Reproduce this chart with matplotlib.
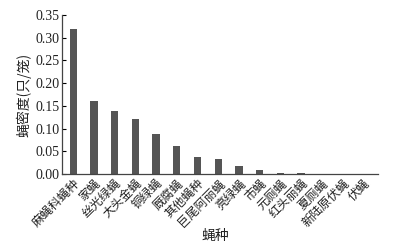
import matplotlib
matplotlib.use('Agg')
import matplotlib.pyplot as plt

# fly species and density (flies per cage)
SPECIES = ['麻蝇科蝇种', '家蝇', '丝光绿蝇', '大头金蝇', '铜绿蝇', '厩腐蝇', '其他蝇种',
           '巨尾阿丽蝇', '亮绿蝇', '市蝇', '元厕蝇', '红头丽蝇', '夏厕蝇', '新陆原伏蝇', '伏蝇']
DENSITY = [0.319, 0.161, 0.138, 0.121, 0.087, 0.062, 0.037,
           0.032, 0.018, 0.009, 0.002, 0.001, 0.0, 0.0, 0.0]
YTICKS = [0.00, 0.05, 0.10, 0.15, 0.20, 0.25, 0.30, 0.35]

CJK = ['Noto Sans CJK SC', 'DejaVu Sans']
SERIF = 'Liberation Serif'

fig = plt.figure(figsize=(3.96, 2.47), dpi=100)
ax = fig.add_axes([0.157, 0.296, 0.798, 0.643])

x = list(range(len(SPECIES)))
ax.bar(x, DENSITY, width=0.35, color='#555555')

ax.set_xlim(-0.53, 14.72)
ax.set_ylim(0, 0.35)
ax.set_yticks(YTICKS)
ax.set_yticklabels([f'{v:.2f}' for v in YTICKS], family=SERIF, fontsize=10, color='#222222')
ax.set_xticks(x)
ax.set_xticklabels(SPECIES, rotation=45, ha='right', rotation_mode='anchor',
                   family=CJK, fontsize=8.8, color='#222222')
ax.tick_params(axis='y', direction='in', length=3, width=0.8, pad=2)
ax.tick_params(axis='x', length=0, pad=2)

for side in ['top', 'right']:
    ax.spines[side].set_visible(False)
for side in ['left', 'bottom']:
    ax.spines[side].set_color('#444444')
    ax.spines[side].set_linewidth(0.9)

ax.set_ylabel('蝇密度(只/笼)', family=CJK, fontsize=10, color='#222222', labelpad=3)
fig.text(0.543, 0.045, '蝇种', family=CJK, fontsize=10, color='#222222', ha='center', va='center')

fig.savefig('out.png', dpi=100)
